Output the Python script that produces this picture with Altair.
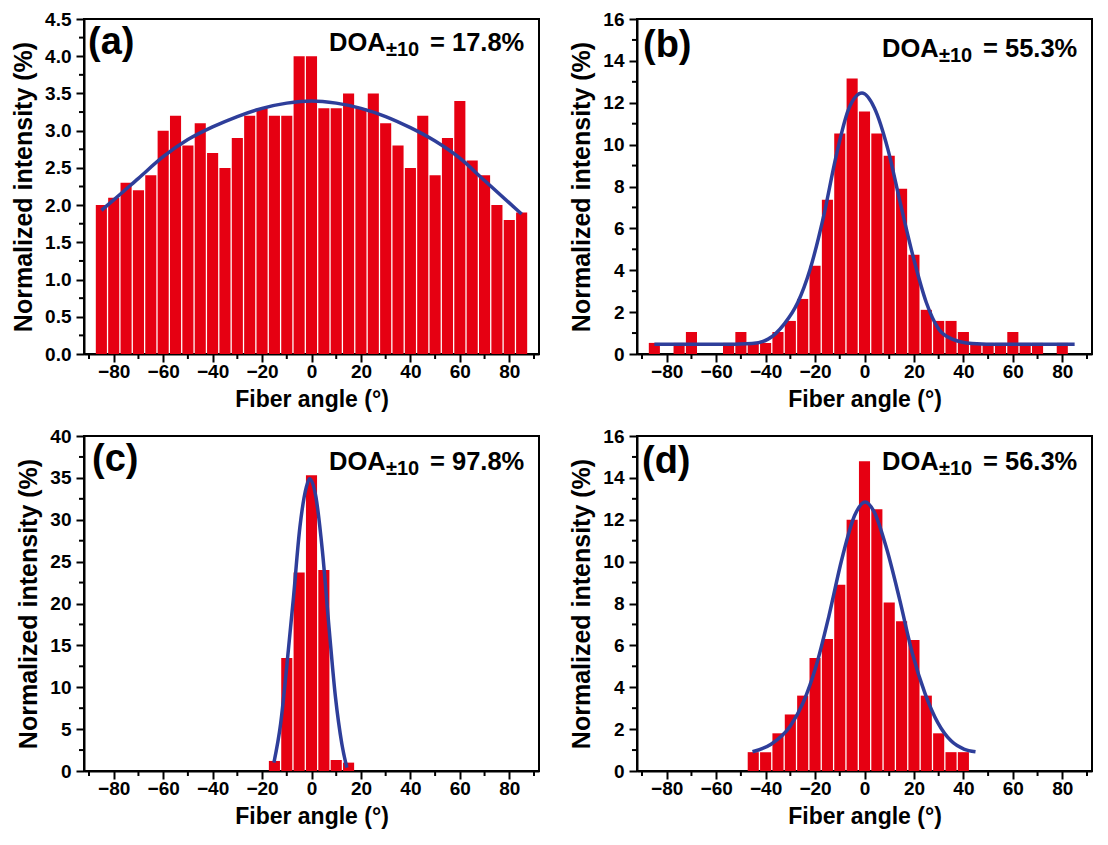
import altair as alt
import pandas as pd

RED = "#E60012"
BLUE = "#2E3E9A"
FONT = "Liberation Sans"

# ---- Panel (a) ----
a_angle = [-85, -80, -75, -70, -65, -60, -55, -50, -45, -40, -35, -30, -25, -20, -15, -10, -5, 0,
           5, 10, 15, 20, 25, 30, 35, 40, 45, 50, 55, 60, 65, 70, 75, 80, 85]
a_value = [2.0, 2.1, 2.3, 2.2, 2.4, 3.0, 3.2, 2.8, 3.1, 2.7, 2.5, 2.9, 3.2, 3.3, 3.2, 3.2, 4.0, 4.0,
           3.3, 3.3, 3.5, 3.3, 3.5, 3.1, 2.8, 2.5, 3.2, 2.4, 2.9, 3.4, 2.6, 2.4, 2.0, 1.8, 1.9]
a_fit_angle = [-85, -80, -70, -60, -50, -40, -30, -20, -10, 0, 10, 20, 30, 40, 50, 60, 70, 80, 85]
a_fit_value = [1.93, 2.07, 2.36, 2.65, 2.88, 3.05, 3.19, 3.30, 3.37, 3.40, 3.37, 3.30, 3.19, 3.04,
               2.86, 2.63, 2.33, 2.03, 1.88]

# ---- Panel (b) ----
b_angle = [-85, -75, -70, -55, -50, -45, -40, -35, -30, -25, -20, -15, -10, -5, 0, 5, 10, 15, 20,
           25, 30, 35, 40, 45, 50, 55, 60, 65, 70, 80]
b_value = [0.53, 0.53, 1.05, 0.53, 1.05, 0.53, 0.53, 1.05, 1.58, 2.63, 4.21, 7.37, 10.53, 13.16,
           11.58, 10.53, 9.47, 7.89, 4.74, 2.11, 1.58, 1.58, 1.05, 0.53, 0.53, 0.53, 1.05, 0.53,
           0.53, 0.53]
b_fit_angle = [-85, -60, -45.5, -39, -32.5, -27, -22, -16.5, -11.5, -6.5, -1, 4, 9.5, 14.5, 20,
               25, 30, 35.5, 43.5, 55, 85]
b_fit_value = [0.46, 0.46, 0.5, 0.71, 1.43, 2.46, 4.05, 6.6, 9.44, 11.67, 12.46, 11.75, 9.76, 7.2,
               4.5, 2.46, 1.19, 0.71, 0.5, 0.46, 0.46]

# ---- Panel (c) ----
c_angle = [-15, -10, -5, 0, 5, 10, 15]
c_value = [1.2, 13.5, 23.7, 35.3, 24.0, 1.3, 1.0]
c_fit_angle = [-15.2, -12.5, -9.9, -7.3, -4.7, -2.1, -0.8, 1.8, 4.4, 7.1, 9.7, 12.3, 14.3]
c_fit_value = [1.0, 5.6, 12.8, 20.7, 29.1, 33.9, 34.9, 32.7, 26.3, 17.1, 8.8, 3.2, 0.4]

# ---- Panel (d) ----
d_angle = [-45, -40, -35, -30, -25, -20, -15, -10, -5, 0, 5, 10, 15, 20, 25, 30, 35, 40]
d_value = [0.9, 0.9, 1.8, 2.7, 3.6, 5.4, 6.3, 8.9, 12.0, 14.8, 12.5, 8.05, 7.15, 6.26, 3.6, 1.8,
           0.9, 0.9]
d_fit_angle = [-45.3, -37.8, -30, -24.8, -19.6, -14.4, -9.2, -4, 0.3, 3.8, 9, 14.2, 19.4, 24.5,
               29.7, 35, 40.2, 44.9]
d_fit_value = [0.92, 1.28, 2.15, 3.27, 5.0, 7.4, 10.1, 12.2, 12.85, 12.4, 10.6, 8.2, 5.6, 3.7, 2.3,
               1.44, 1.05, 0.92]

labels = ["(a)", "(b)", "(c)", "(d)"]
doa_values = ["= 17.8%", "= 55.3%", "= 97.8%", "= 56.3%"]

# axis tick positions
x_major = [-80, -60, -40, -20, 0, 20, 40, 60, 80]
x_minor = [-90, -70, -50, -30, -10, 10, 30, 50, 70, 90]

W, H = 455, 335


def panel(bx, by, fx, fy, ymax, ymajor, ydec, tag, doa, doa_base, tag_x, tag_base):
    bars = pd.DataFrame({"angle": bx, "value": by})
    fit = pd.DataFrame({"angle": fx, "value": fy})
    n = int(round(ymax / ymajor))
    y_major = [round(i * ymajor, 4) for i in range(n + 1)]
    y_minor = [round((i + 0.5) * ymajor, 4) for i in range(n)]
    xscale = alt.Scale(domain=[-90, 90], nice=False, zero=False)
    yscale = alt.Scale(domain=[0, ymax], nice=False)
    xaxis = alt.Axis(values=x_major, tickSize=8, title="Fiber angle (°)", grid=False,
                     labelPadding=0, titlePadding=7, labelOverlap=False, labelFlush=False)
    yaxis = alt.Axis(values=y_major, tickSize=8, title="Normalized intensity (%)",
                     labelExpr=f"format(datum.value, '.{ydec}f')",
                     grid=False, labelPadding=5, titlePadding=8, labelOverlap=False,
                     labelFlush=False)
    b = alt.Chart(bars).mark_bar(color=RED, size=11.1, orient="vertical").encode(
        x=alt.X("angle:Q", scale=xscale, axis=xaxis),
        y=alt.Y("value:Q", scale=yscale, axis=yaxis),
    )
    line = alt.Chart(fit).mark_line(color=BLUE, strokeWidth=3.5, interpolate="monotone").encode(
        x=alt.X("angle:Q", scale=xscale, axis=xaxis),
        y=alt.Y("value:Q", scale=yscale, axis=yaxis),
    )
    xm = alt.Chart(pd.DataFrame({"angle": x_minor})).mark_rule(color="black", strokeWidth=2).encode(
        x=alt.X("angle:Q", scale=xscale, axis=xaxis), y=alt.value(H), y2=alt.value(H + 5))
    ym = alt.Chart(pd.DataFrame({"value": y_minor})).mark_rule(color="black", strokeWidth=2).encode(
        y=alt.Y("value:Q", scale=yscale, axis=yaxis), x=alt.value(0), x2=alt.value(-5))
    one = pd.DataFrame({"k": [0]})
    txt = dict(font=FONT, fontWeight="bold", color="black", align="left", baseline="alphabetic")
    t_tag = alt.Chart(one).mark_text(text=tag, fontSize=38, **txt).encode(
        x=alt.value(tag_x), y=alt.value(tag_base))
    t_doa = alt.Chart(one).mark_text(text="DOA", fontSize=25.5, **txt).encode(
        x=alt.value(245), y=alt.value(doa_base))
    t_sub = alt.Chart(one).mark_text(text="±10", fontSize=20, **txt).encode(
        x=alt.value(302), y=alt.value(doa_base + 5))
    t_eq = alt.Chart(one).mark_text(text=doa, fontSize=25.5, **txt).encode(
        x=alt.value(346), y=alt.value(doa_base))
    return alt.layer(b, line, xm, ym, t_tag, t_doa, t_sub, t_eq).properties(width=W, height=H)


pa = panel(a_angle, a_value, a_fit_angle, a_fit_value, 4.5, 0.5, 1,
           labels[0], doa_values[0], 32, 4, 35)
pb = panel(b_angle, b_value, b_fit_angle, b_fit_value, 16, 2, 0,
           labels[1], doa_values[1], 38, 6, 38)
pc = panel(c_angle, c_value, c_fit_angle, c_fit_value, 40, 5, 0,
           labels[2], doa_values[2], 34, 8, 35)
pd_ = panel(d_angle, d_value, d_fit_angle, d_fit_value, 16, 2, 0,
            labels[3], doa_values[3], 34, 5, 37)

chart = alt.concat(pa, pb, pc, pd_, columns=2, spacing={"row": 14, "column": 28}).properties(
    padding={"left": 2, "top": 1, "right": 0, "bottom": 0}
).configure_view(
    stroke="black", strokeWidth=2
).configure_axis(
    labelFont=FONT, labelFontWeight="bold", labelFontSize=19, labelColor="black",
    titleFont=FONT, titleFontWeight="bold", titleColor="black",
    domainColor="black", domainWidth=2, tickColor="black", tickWidth=2,
    labelFlush=False, labelOverlap=False, zindex=1,
).configure_axisX(titleFontSize=23).configure_axisY(titleFontSize=25)

chart.save("out.html", embed_options={"renderer": "svg", "actions": False})
